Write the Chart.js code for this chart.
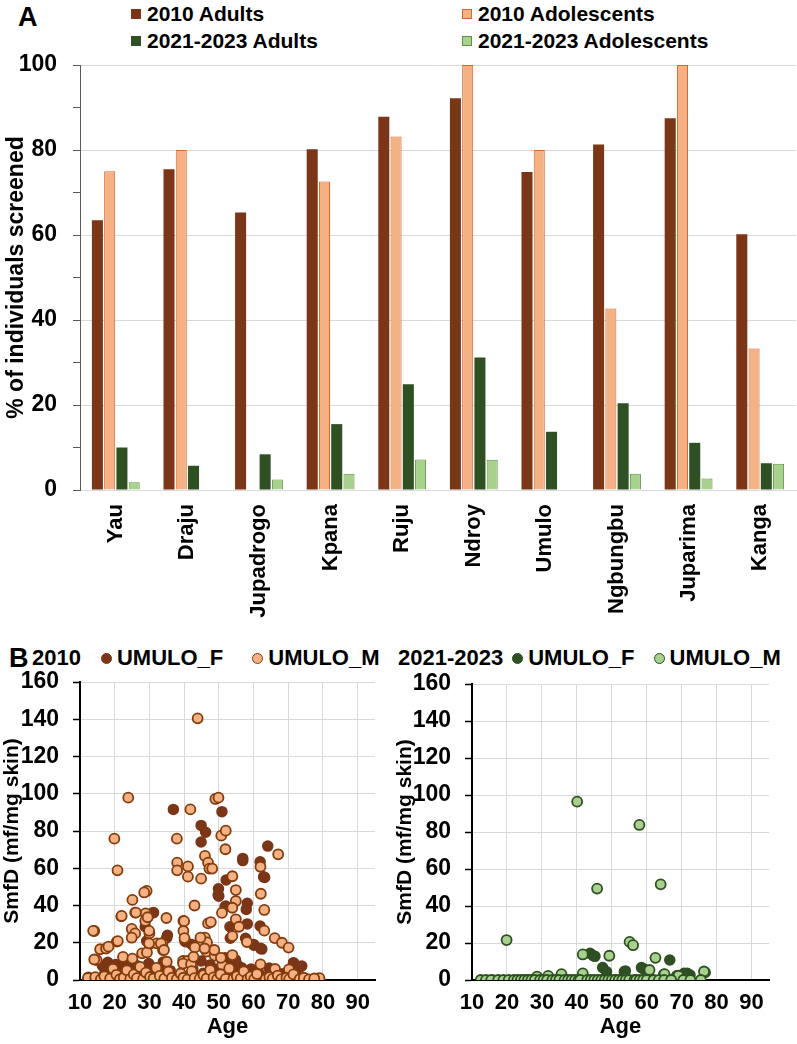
<!DOCTYPE html>
<html>
<head>
<meta charset="utf-8">
<script src="https://cdn.jsdelivr.net/npm/chart.js@4.4.1/dist/chart.umd.min.js"></script>
<style>
  body { margin: 0; background: #fff; font-family: 'Liberation Sans', Arial, sans-serif; }
  #page { position: relative; width: 797px; height: 1044px; overflow: hidden; }
  canvas { position: absolute; }
  .panel { position: absolute; font-weight: bold; font-size: 27px; color: #000; }
  .legend { position: absolute; font-weight: bold; color: #000; white-space: nowrap; }
  .legend .item { display: flex; align-items: center; }
  .legend i { display: inline-block; box-sizing: border-box; flex: none; }
  #legendA { left: 131px; top: 0px; font-size: 21px; line-height: 27px;
             display: grid; grid-template-columns: 331px auto; }
  #legendA i { width: 10px; height: 10px; margin-right: 6px; }
  .legendB { top: 645px; font-size: 22px; line-height: 26px; display: flex; align-items: center; }
  .legendB i { width: 11px; height: 11px; border-radius: 50%; margin-right: 5px; }
</style>
</head>
<body>
<div id="page">
  <div class="panel" style="left:18px; top:2px;">A</div>
  <div class="panel" style="left:9px; top:643px;">B</div>
  <div id="legendA" class="legend"></div>
  <div id="legend2010" class="legend legendB" style="left:32px;"></div>
  <div id="legend2021" class="legend legendB" style="left:398px;"></div>
  <canvas id="bars" width="797" height="640" style="left:0; top:0;"></canvas>
  <canvas id="scatter2010" width="393" height="404" style="left:0; top:640px;"></canvas>
  <canvas id="scatter2021" width="404" height="404" style="left:393px; top:640px;"></canvas>
</div>
<script>
// ---- Panel A: % of individuals screened, per village ----
const villages = ['Yau', 'Draju', 'Jupadrogo', 'Kpana', 'Ruju', 'Ndroy', 'Umulo', 'Ngbungbu', 'Juparima', 'Kanga'];
const adults2010 = [63.5, 75.5, 65.3, 80.2, 87.8, 92.2, 74.8, 81.3, 87.5, 60.2];
const adolescents2010 = [75, 80, 0, 72.6, 83.2, 100, 80, 42.7, 100, 33.3];
const adults2021 = [10.0, 5.7, 8.4, 15.5, 24.9, 31.2, 13.7, 20.4, 11.1, 6.3];
const adolescents2021 = [1.8, 0, 2.5, 3.8, 7.2, 7.1, 0, 3.8, 2.7, 6.2];
const seriesNamesA = ['2010 Adults', '2010 Adolescents', '2021-2023 Adults', '2021-2023 Adolescents'];
const yTicksA = [0, 20, 40, 60, 80, 100];

// ---- Panel B: SmfD by age, Umulo ----
const agesF2010 = [36.9, 44.9, 46.2, 44.9, 50.9, 52.1, 49.9, 50, 52, 58.2, 57.9, 58.2, 56.9, 56.9, 61.9, 62.9, 64.1, 63.2,
  61.9, 62.4, 60, 31.2, 28.8, 35, 35.2, 44.9, 53.2, 42.2, 40.5, 71.5, 73.9, 51.8, 53.3, 57.7, 60.1, 62, 51.8, 53.3, 56.6,
  71.6, 73.5, 30.9, 29.2, 40.2, 49.8, 54.8,
  16.5, 17.2, 18, 18.8, 19.5, 20.3, 21, 21.8, 22.5, 23.4, 24.1, 25, 25.8, 26.5, 27.3, 28.1, 29, 29.8, 30.6, 31.4, 32.3,
  33, 34, 34.8, 36, 37.5, 39, 41, 42.5, 43.8, 45.5, 46.8, 47.5, 48.3, 49.2, 50.5, 51.3, 52.5, 53.5, 54.3, 55.2, 56, 57,
  58.5, 59.3, 60.5, 61.5, 63, 64.5, 65.5, 66.8, 68.5, 70, 72, 74, 75.5];
const smfdF2010 = [91.6, 83, 79.3, 74.1, 90.4, 53.7, 49, 45, 39.7, 41.2, 37.9, 30.1, 65.3, 64.1, 63.5, 55.4, 71.9, 55.1,
  29, 16.6, 19.1, 36.2, 28.6, 22.7, 24, 10.2, 28.6, 19.1, 20.6, 9.3, 7.5, 39.3, 22.4, 22.4, 18.7, 17, 12, 10.2, 6.6,
  8.9, 7.2, 36, 20.9, 20.9, 45.6, 10.8,
  7.5, 4, 9.5, 1, 5.2, 8.3, 0.5, 3.1, 6.8, 1.5, 9, 4.2, 0.8, 7.6, 2.4, 5.5, 0.6, 8.8, 3.4, 6.1, 1.2,
  4.8, 9.6, 2.2, 5, 0.5, 2.8, 0.9, 6.2, 1.7, 3.6, 0.4, 8.1, 2.5, 5.8, 1.1, 7.4, 3.9, 0.6, 5.1, 8.4, 2.6, 4.4,
  1.3, 5.9, 0.8, 3.7, 1.5, 6.4, 2.1, 0.6, 3.3, 1.2, 4.2, 0.9, 0.3];
const agesM2010 = [43.9, 23.9, 19.9, 20.8, 14.1, 14.8, 12.4, 21.9, 20.6, 25.1, 25.9, 24.9, 25.9, 29.2, 28.5, 28.9, 28.8,
  30, 30, 32.1, 33.8, 33.9, 34.9, 35, 37.9, 38, 38, 41.8, 41.1, 41.1, 43, 39.8, 39.8, 40.1, 43.1, 39.7, 40.9, 44.9, 46,
  46.9, 47.3, 48.1, 49, 49.9, 50.7, 52, 51.9, 50.9, 46.9, 47.7, 46, 46.6, 46.5, 48.8, 51, 53.9, 54.9, 54.9, 53.9, 54.9,
  53.9, 55.8, 53.9, 58.1, 62, 62.1, 63.1, 63.1, 62, 66.1, 68.2, 70.1, 67.1, 66.2, 70.2, 68.2, 72.8, 78.3, 79,
  15.8, 17.5, 18.2, 14.1, 22.4, 25.1, 27.9, 29.3, 39.7, 42, 42.7, 48.7, 50.6, 20.9, 24.9, 29.9, 33.3, 34.2, 44.7, 45.9,
  22, 26.1, 29.5, 40, 13.8, 29.9,
  12.3, 14.4, 16, 17, 18.7, 19.5, 20.5, 21.5, 22.6, 23.5, 24.5, 25.5, 26.4, 27.3, 28.2, 29, 30.2, 31.2, 32, 33, 34.3,
  35.5, 36.5, 37.9, 39, 39.8, 41, 42.2, 43, 44.5, 45.6, 46.5, 47.5, 48.5, 49.5, 50.5, 52, 53, 54.2, 55.2, 56.3, 57.2,
  58.3, 59.2, 60.2, 61, 63.5, 64.6, 65.5, 67, 68, 69.5, 70.3, 71.5, 73.3, 74.5, 76, 77.5];
const smfdM2010 = [140.5, 97.9, 75.9, 58.9, 26.3, 10.7, 1.4, 34.2, 20.6, 43, 36.2, 27.4, 25, 47.8, 47, 35.8, 31.7,
  25, 19.1, 19.7, 19.7, 16.1, 33.3, 9.8, 75.9, 63, 58.9, 91.6, 61, 55.5, 40, 31.7, 26.3, 22.5, 17.5, 10.2, 10.2, 54.4, 66.6,
  63, 59.8, 59.8, 97.2, 97.9, 77.5, 80.2, 70.2, 36, 30.4, 31.1, 22.7, 20.2, 15.2, 13.1, 8.1, 55.7, 48.3, 42.4, 38.8, 32.6,
  23.6, 28.6, 13.4, 20.4, 60.8, 46.3, 37.6, 26.5, 8.4, 22.5, 20, 17.4, 67.5, 5.9, 5.7, 0, 0, 0.7, 1,
  16.5, 16.9, 17.9, 11, 12.4, 11.5, 14.3, 14.8, 8.8, 8.5, 12.4, 16.1, 11.9, 20.9, 22.7, 19.7, 19.7, 16.1, 22.7, 16.9,
  34.4, 36.2, 33.7, 31.6, 26.4, 26.4,
  1, 1.5, 0.3, 2, 0.8, 6, 2.8, 0.4, 1.2, 5.2, 0.6, 3, 1, 7, 0.5, 4, 1.6, 0.8, 6.5, 2.2, 0.7,
  4.5, 1.2, 0.4, 3.5, 1.2, 0.3, 4.8, 1, 0.6, 2.6, 0.8, 5.3, 1.4, 0.4, 3.1, 0.6, 6.2, 0.5, 2, 0.7, 4.6,
  0.5, 1.8, 0.5, 3.2, 0.4, 1.5, 0.6, 2.4, 0.5, 1.2, 0.5, 3, 0.4, 1.2, 0.3, 0.8];

const agesF2021 = [43.8, 44.7, 45.2, 47.4, 48.5, 53.6, 53.9, 58.5, 59.2, 66.6, 70.7, 71.6, 72.4,
  16, 26, 33, 42, 51, 61, 68];
const smfdF2021 = [14.4, 13.1, 12.8, 6.7, 4.5, 4.5, 4.9, 6.7, 5.9, 10.8, 3.6, 3.6, 2.7,
  0, 0, 0, 0, 0, 0, 0];
const agesM2021 = [40.1, 57.9, 45.8, 64, 19.9, 55.1, 56.1, 41.7, 49.3, 62.5, 60.8, 41.7, 35.6, 31.8, 28.6, 64.9, 68.6,
  76.7, 65.1, 69.1, 76.4, 54, 71,
  12.5, 14, 15.5, 17.5, 19, 20.5, 22, 23, 24, 25, 26, 27, 28, 29.5, 30.5, 31.5, 33, 34, 35, 36.5, 37.5, 38.5, 39.5,
  40.5, 41, 43, 44, 45, 46, 47, 48, 49, 50, 51, 52, 53, 54, 55, 56.5, 57, 58, 59, 60, 62, 63.5, 65, 67, 70.5, 72.5,
  75.5, 77];
const smfdM2021 = [96.4, 83.8, 49.4, 51.7, 21.6, 20.6, 18.8, 13.8, 13.1, 12, 5.4, 3.6, 3.2, 2.2, 1.8, 3, 2.2,
  4.1, 3.2, 2.3, 4.6, 0.8, 0.5,
  0, 0, 0, 0, 0, 0, 0, 0, 0, 0, 0, 0, 0, 0, 0, 0, 0, 0, 0, 0, 0, 0, 0,
  0, 0, 0, 0, 0, 0, 0, 0, 0, 0, 0, 0, 0, 0, 0, 0, 0, 0, 0, 0, 0, 0, 0, 0, 0,
  0, 0];
const yTicksB = [0, 20, 40, 60, 80, 100, 120, 140, 160];
const xTicksB = [10, 20, 30, 40, 50, 60, 70, 80, 90];

Chart.defaults.font.family = "'Liberation Sans', Arial, sans-serif";
Chart.defaults.color = '#000';

const bold = size => ({ family: "'Liberation Sans', Arial, sans-serif", size: size, weight: 'bold' });
const clear = 'rgba(0,0,0,0)';

// builds an html legend from the chart's own legend items (kept in dataset order)
function htmlLegend(chart, el) {
  const items = chart.options.plugins.legend.labels.generateLabels(chart)
    .sort((a, b) => a.datasetIndex - b.datasetIndex);
  items.forEach(item => {
    const row = document.createElement('span');
    row.className = 'item';
    const box = document.createElement('i');
    box.style.background = item.fillStyle;
    if (item.lineWidth) box.style.border = Math.min(item.lineWidth, 2) + 'px solid ' + item.strokeStyle;
    row.appendChild(box);
    row.appendChild(document.createTextNode(item.text));
    el.appendChild(row);
  });
  return el;
}

const barChart = new Chart(document.getElementById('bars'), {
  type: 'bar',
  data: {
    labels: villages,
    datasets: [
      { label: seriesNamesA[0], data: adults2010, backgroundColor: '#7B3517', borderColor: '#7B3517', borderWidth: 0 },
      { label: seriesNamesA[1], data: adolescents2010, backgroundColor: '#F4B183', borderColor: '#D9652B', borderWidth: 1 },
      { label: seriesNamesA[2], data: adults2021, backgroundColor: '#2E5023', borderColor: '#2E5023', borderWidth: 0 },
      { label: seriesNamesA[3], data: adolescents2021, backgroundColor: '#A9D18E', borderColor: '#5E9140', borderWidth: 1 }
    ]
  },
  options: {
    responsive: false,
    animation: false,
    categoryPercentage: 0.685,
    barPercentage: 0.9,
    layout: { padding: { top: 65, right: 1, bottom: 10, left: 0 } },
    plugins: { legend: { display: false }, tooltip: { enabled: false } },
    scales: {
      x: {
        grid: { display: false },
        border: { color: '#d9d9d9' },
        ticks: { font: bold(22), color: '#000', minRotation: 90, maxRotation: 90, autoSkip: false, padding: 6 },
        afterFit: axis => { axis.height = 140; }
      },
      y: {
        min: 0, max: 100,
        ticks: { stepSize: 10, font: bold(23), color: '#000', padding: 16,
                 callback: v => yTicksA.includes(v) ? v : '' },
        grid: { color: c => yTicksA.includes(c.tick.value) ? '#d9d9d9' : clear,
                tickColor: '#595959', tickLength: 7 },
        border: { color: '#595959' },
        title: { display: true, text: '% of individuals screened', font: bold(23), color: '#000', padding: { top: 3, bottom: 0 } },
        afterFit: axis => { axis.width = 80; }
      }
    }
  }
});
htmlLegend(barChart, document.getElementById('legendA'));

// scatter of SmfD against age, one chart per survey period
function makeScatter(id, agesF, valsF, agesM, valsM, colF, colM, edge, yWidth, topPad, rightPad) {
  const toPoints = (xs, ys) => xs.map((x, i) => ({ x: x, y: ys[i] }));
  return new Chart(document.getElementById(id), {
    type: 'scatter',
    data: {
      datasets: [
        { label: 'UMULO_F', data: toPoints(agesF, valsF), backgroundColor: colF, borderColor: colF,
          pointRadius: 5, borderWidth: 1.5, order: 2 },
        { label: 'UMULO_M', data: toPoints(agesM, valsM), backgroundColor: colM, borderColor: edge,
          pointRadius: 5, borderWidth: 1.8, order: 1 }
      ]
    },
    options: {
      responsive: false,
      animation: false,
      layout: { padding: { top: topPad, right: rightPad, bottom: 4, left: 0 } },
      plugins: { legend: { display: false }, tooltip: { enabled: false } },
      scales: {
        x: {
          type: 'linear', min: 10, max: 95,
          afterBuildTicks: axis => { axis.ticks = xTicksB.map(v => ({ value: v })); },
          ticks: { font: bold(22), color: '#000', padding: 10, maxRotation: 0, autoSkip: false },
          grid: { color: c => c.tick.value > 10 ? '#d9d9d9' : clear, drawTicks: false },
          border: { color: '#000', width: 2 },
          title: { display: true, text: 'Age', font: bold(22), color: '#000', padding: 0 },
          afterFit: axis => { axis.height = 60; }
        },
        y: {
          min: 0, max: 160,
          ticks: { stepSize: 10, font: bold(23), color: '#000', padding: 14,
                   callback: v => yTicksB.includes(v) ? v : '' },
          grid: { color: c => (yTicksB.includes(c.tick.value) && c.tick.value > 0) ? '#d9d9d9' : clear,
                  tickColor: '#000', tickLength: 7, tickWidth: 1.5 },
          border: { color: '#000', width: 2 },
          title: { display: true, text: 'SmfD (mf/mg skin)', font: bold(21), color: '#000', padding: 0 },
          afterFit: axis => { axis.width = yWidth; }
        }
      }
    }
  });
}

const chart2010 = makeScatter('scatter2010', agesF2010, smfdF2010, agesM2010, smfdM2010,
  '#7B3517', '#F4B183', '#843C0C', 80, 42, 18);
const chart2021 = makeScatter('scatter2021', agesF2021, smfdF2021, agesM2021, smfdM2021,
  '#2E5023', '#A9D18E', '#2E5023', 79, 44, 28);

function scatterLegend(chart, el, title, gaps) {
  const t = document.createElement('span');
  t.textContent = title;
  t.style.marginRight = gaps[0] + 'px';
  el.appendChild(t);
  htmlLegend(chart, el);
  el.children[1].style.marginRight = gaps[1] + 'px';
}
scatterLegend(chart2010, document.getElementById('legend2010'), '2010', [20, 29]);
scatterLegend(chart2021, document.getElementById('legend2021'), '2021-2023', [9, 19]);
</script>
</body>
</html>
